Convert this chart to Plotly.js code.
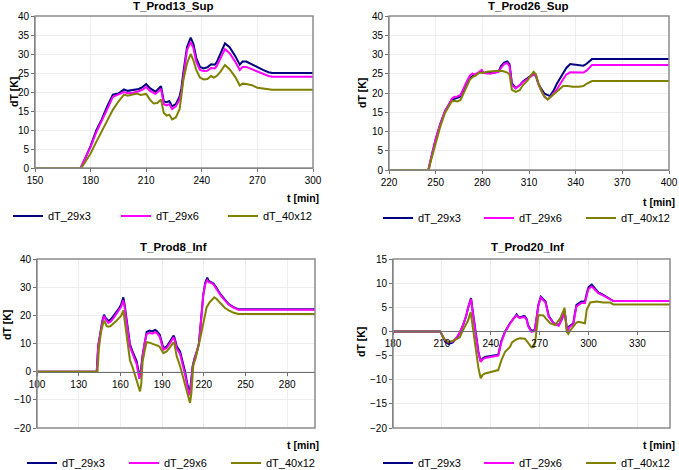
<!DOCTYPE html>
<html><head><meta charset="utf-8">
<script src="https://cdn.plot.ly/plotly-3.0.1.min.js"></script>
<style>html,body{margin:0;padding:0;background:#fff;overflow:hidden}#chart{width:679px;height:470px}</style>
</head><body><div id="chart"></div><script>
// ---------- data ----------
var seriesNames = ['dT_29x3', 'dT_29x6', 'dT_40x12'];
var panelTitles = ['T_Prod13_Sup', 'T_Prod26_Sup', 'T_Prod8_Inf', 'T_Prod20_Inf'];

// T_Prod13_Sup
var p13_t_29x3 = [150,174.7,177,180,183,186,189,192,195,198,200,203,206,208,210,212,215,218,219.5,221,222.5,224,226,228,229,230,232,234,235.5,237,239,241,243,245,247,248,250,252.5,255,258,260.5,262,264,267,270,273,276,278,300];
var p13_dT_29x3 = [0,0,2.4,5.8,9.8,12.8,16.3,19.3,19.6,20.7,20.3,20.5,20.8,21.3,22.1,21,20.1,21.5,17.5,17.3,17.6,16.2,16.8,18.8,21,25,31.8,34.3,32.6,29,26.6,26.2,26.5,27.3,27.2,27.8,30,32.8,31.8,29.5,27.2,28,28,27.2,26.5,25.8,25.2,25,25];
var p13_t_29x6 = [150,174.7,177,180,183,186,189,192,195,198,200,203,206,208,210,212,215,218,219.5,221,222.5,224,226,228,229,230,232,234,235.5,237,239,241,243,245,247,248,250,252.5,255,258,260.5,262,264,267,270,273,276,278,300];
var p13_dT_29x6 = [0,0,2.6,5.5,9.3,12.2,15.5,18.7,19.3,20,19.7,19.8,20.2,20.6,21.3,20.3,19.5,20.8,16.8,16.5,16.8,15.5,16.2,18,20,24,31,33.2,31.5,28,25.8,25.5,25.6,26.3,26.2,26.8,28.8,31.3,30.2,28,25.8,26.6,26.6,26,25.3,24.7,24.2,24,24];
var p13_t_40x12 = [150,175,177,180,183,186,189,192,195,198,200,203,205,207,210,212,214,216,218,219.5,221,222.5,224,226,228,229,230,232,234,235.5,237,239,241,243,245,246.5,248,250,252.5,255,258,260.5,262,264,267,270,273,276,278,300];
var p13_dT_40x12 = [0,0,1.5,3.8,6.8,9.5,12.5,15.3,17.5,19.3,19,19.4,19.6,19.2,19.5,18,17,17.1,18,14.5,13.8,14,12.8,13.3,15.5,19,23,27.5,30,28.3,25.8,23.8,23.3,23.4,24.2,23.8,24.2,25.3,27.1,26,24,21.7,22.2,22.1,21.8,21.1,20.9,20.8,20.6,20.6];

// T_Prod26_Sup
var p26_t_29x3 = [220,245.3,247,250,253,256,258.5,260.3,263,265.5,267,269,271,273,275,277,279.5,281,285,288,290.5,292,294,296,297.5,299,301.5,304,306,309,311,313,314.5,316,318,320,323.5,326,328,331,334,336.5,339,342,345,347,349,350.5,400];
var p26_dT_29x3 = [0,0,3,8,12,15.3,17,18.2,18.6,19,20,21.8,23.3,24.2,24.7,25,25.6,25.2,25.2,25.3,25.6,27,27.9,28.2,27.5,22.5,21.3,22,23,23.8,24.3,25,24.3,22.5,21,19.8,19.2,20.8,22.5,24.5,26.5,27.5,27.4,27.3,27.1,27.6,28.3,28.8,28.8];
var p26_t_29x6 = [220,245.3,247,250,253,256,258.5,260.5,262,264,266,268,270,272,273.6,275,277,279.6,281,285,288,290.5,292,294,296,297.5,299,301.5,304,306,309,311,313,314.5,316,318,320,322,324,326,328,331,334,336.5,340,345,347,349,350.5,400];
var p26_dT_29x6 = [0,0,3,8,12,15.3,17,18.6,19,19.1,19.5,21.5,23,24.5,25.1,24.8,25.2,26,25.2,25,25.2,25.5,26.5,27.5,27.8,27,22,21.2,22,22.8,23.6,24.2,24.8,24.5,22.3,20.5,19,18.3,19,20,21,23,24.8,25.4,25.4,25.3,25.8,26.7,27.3,27.3];
var p26_t_40x12 = [220,245.6,247,250,253,256,258.5,260.3,262,264,266,268,270,272,274,276,278,280,283,286,290,293,296,297.5,299,301.5,304,306,309,311,313,314.5,316,318,320,322,324,326,328,330,332,335,338,342,345,347,349,350.5,400];
var p26_dT_40x12 = [0,0,2.5,7,11.3,14.8,16.5,17.8,18,17.8,18.2,20,22,23.5,24.2,24.6,25.3,25.2,25.5,25.6,25.8,25.7,25.3,24.8,20.8,20.3,20.7,22,23.2,24.5,25.5,24.8,22.5,20.5,19,18.3,19,19.8,20.3,21,21.8,21.8,21.6,21.6,21.8,22.4,22.9,23.1,23.1];

// T_Prod8_Inf
var p8_t_29x3 = [100,143,144,145.5,147,148.2,149.5,151.3,153,155,157,159,160.5,162.1,163,164.5,166.9,168.5,170,171.7,173.6,174.5,176,177.5,178.9,181,183,185,186.5,188.3,190.9,193.3,195.5,198.3,199,200.5,202.9,205,206.5,208,209.6,210.5,212,213.5,215,216.5,218,219.6,221,222.5,223.5,225.6,227,229.2,232,235.3,238,241,244.8,300];
var p8_dT_29x3 = [0,0,9,14,18,20.2,19,18,18.5,19.8,21,22.5,23.8,26.4,24,18.8,9.6,7.5,5.5,3.7,-1.3,-0.5,6,11,14.1,14.6,14.3,14.8,14.3,13.1,8.4,8.9,10.5,12.8,12,9,7.2,3.5,0.1,-4,-7.6,-5,2,5,7,10,18,27.3,31.5,33.4,32.2,31.8,31.3,29.7,27.5,25.5,24,23,22.2,22.2];
var p8_t_29x6 = [100,143,144,145.5,147,148.2,149.5,151.3,153,155,157,159,160.5,162.1,163,164.5,166.9,168.5,170,171.7,173.6,174.5,176,177.5,178.9,181,183,185,186.5,188.3,190.9,193.3,195.5,198.3,199,200.5,202.9,205,206.5,208,209.6,210.5,212,213.5,215,216.5,218,219.6,221,222.5,223.5,225.6,227,229.2,232,235.3,238,241,244.8,300];
var p8_dT_29x6 = [0,0,9,13.5,17.5,19.8,18.5,17.3,17.8,19,20.3,21.8,23,25.3,23,17.5,8.8,6.8,4.5,2.7,-2.5,-1.5,5.5,10.5,13.3,13.8,13.5,14,13.6,12.3,7.8,8.4,10,12.2,11.3,8.3,6.3,2.5,-1,-5,-8.4,-6,1.5,4.8,7,10,18,27,31,32.5,31.8,31.5,31,29.2,27.2,25.2,23.8,22.8,22,22];
var p8_t_40x12 = [100,143.5,144.5,146,147.5,148.5,150,151.3,153,155,157,159,160.5,162.1,163,164.5,166.9,168.5,170,171.7,174.1,175,176,177.5,178.9,181,183,185,187,188.3,190.9,193.3,195.5,198.3,199,200.5,202.9,205,206.5,208,210.1,211,212.5,214,216,217.5,219.6,221,222,224,225.6,227.5,229.2,232,235.3,238,241,244.8,300];
var p8_dT_40x12 = [0,0,8,14,17,18.1,16.2,16,16.2,17,18,19,19.8,21.8,18.5,12,4,2,-0.5,-2.5,-7,-4.5,3.6,7.5,10.5,10.3,9.8,9.5,9.2,8.8,6.6,7.2,8.5,10.5,9.5,5.5,2,-2,-4,-7,-11.1,-8,2.5,4.5,8.4,12,17,20.5,22.8,24.5,25.3,26.4,25.8,24.3,22.6,21.8,21,20.5,20.5];

// T_Prod20_Inf
var p20_t_29x3 = [180,209,210.5,212,214,216.5,219,221,223,225,226,227.9,228.8,229.9,231,232.4,233.8,235,236.5,240,244.6,246.5,248.8,251.8,254,255.9,257,258,260,261,262,263,265,267,268,269.2,270.7,272,273.6,275.6,278.7,281.7,283.8,285.3,286.3,287,288,290.7,291.5,292.6,295.7,297.8,299,300,302,304,306,308,311.2,313,315.2,350];
var p20_dT_29x3 = [0,0,-1,-2.1,-2.6,-2.3,-1.4,-0.3,1.3,3.3,4.8,6.9,4.5,2,-1,-4.2,-6.2,-5.6,-5.3,-5.1,-4.8,-2,0,1.7,2.8,3.5,3,2.9,3.2,3.1,2.6,1.2,0.1,0.3,2.5,5.5,7.2,6.8,6.2,3.2,1.7,1.3,2.7,4.2,1.8,-0.2,1,1.7,3.5,5.5,6.2,6.2,8,9.2,9.7,9,8.1,7.8,7.2,6.8,6.3,6.3];
var p20_t_29x6 = [180,209,210.5,212,214,216.5,219,221,223,225,226,227.9,228.8,229.9,231,232.4,233.8,235,236.5,240,244.6,246.5,248.8,251.8,254,255.9,257,258,260,261,262,263,265,267,268,269.2,270.7,272,273.6,275.6,278.7,281.7,283.8,285.3,286.3,287,288,290.7,291.5,292.6,295.7,297.8,299,300,302,304,306,308,311.2,313,315.2,350];
var p20_dT_29x6 = [0,0,-1,-1.9,-2.3,-2.1,-1.3,-0.2,1.3,3.3,4.8,6.7,4.3,1.8,-1.2,-4.4,-6.3,-5.8,-5.5,-5.3,-5,-2.2,-0.1,1.6,2.7,3.3,2.9,2.8,3,2.9,2.4,1,-0.1,0.1,2.3,5.3,7,6.6,6,3,1.6,1.2,2.6,4.3,1.6,-0.3,0.8,1.5,3.2,5.2,5.9,5.9,7.6,8.8,9.3,8.7,7.9,7.6,7,6.7,6.3,6.3];
var p20_t_40x12 = [180,209,210.5,212,214,216.5,219,221,223,225,226,227.7,228.8,229.9,231,232.4,233.8,235,236.5,240,244.6,246.5,248.8,251.8,253,255.9,258,261,263,265,266.5,267.5,269.2,272.3,274,276.4,279.5,282.6,284.5,285.3,286.6,287.6,289,290.7,292.5,293.7,297.8,298.9,301,305,309,313.2,315.2,350];
var p20_dT_40x12 = [0,0,-1,-1.8,-2.2,-2,-1.6,-1.2,0.3,1.7,2.2,4,1.5,-1.4,-4.5,-7.5,-9.7,-9,-8.7,-8.4,-8,-6,-4.2,-3.2,-2.3,-1.6,-1.4,-1.5,-2.4,-3.3,-3.2,-1.5,3.4,3.3,2.6,1.7,1.3,2.7,4.2,4.9,0,-0.5,0.3,1,1.8,2,1.7,4.5,6,6.2,6,6,5.6,5.6];

// ---------- styling ----------
var W = 679, H = 470;
function px(x){ return x / W; }
function py(y){ return 1 - y / H; }
var colors = ['#000080', '#FF00FF', '#808000'];
var FONT = 'Liberation Sans, Arial, sans-serif';

var panels = [
  {ts:[p13_t_29x3,p13_t_29x6,p13_t_40x12], ys:[p13_dT_29x3,p13_dT_29x6,p13_dT_40x12],
   xd:[px(35),px(313)], yd:[py(168),py(16)], xr:[150,300], x0:150, yr:[0,40], dy:5,
   title:[174,6], tmin:[321,198], dtk:[14,92], legY:216, legL:[17,125,232]},
  {ts:[p26_t_29x3,p26_t_29x6,p26_t_40x12], ys:[p26_dT_29x3,p26_dT_29x6,p26_dT_40x12],
   xd:[px(389),px(669)], yd:[py(170),py(16)], xr:[220,400], x0:220, yr:[0,40], dy:5,
   title:[528,6], tmin:[677,202], dtk:[362,93], legY:218, legL:[387,488,590]},
  {ts:[p8_t_29x3,p8_t_29x6,p8_t_40x12], ys:[p8_dT_29x3,p8_dT_29x6,p8_dT_40x12],
   xd:[px(37),px(315)], yd:[py(428),py(259)], xr:[100,300], x0:100, yr:[-20,40], dy:10,
   title:[173,247], tmin:[321,445], dtk:[7,325], legY:463, legL:[31,133,235]},
  {ts:[p20_t_29x3,p20_t_29x6,p20_t_40x12], ys:[p20_dT_29x3,p20_dT_29x6,p20_dT_40x12],
   xd:[px(393),px(670)], yd:[py(428),py(259)], xr:[180,350], x0:180, yr:[-20,15], dy:5,
   title:[527,247], tmin:[677,445], dtk:[361,342], legY:463, legL:[387,488,590]}
];

var data = [];
var layout = {
  width: W, height: H, margin:{l:0,r:0,t:0,b:0, autoexpand:false},
  paper_bgcolor:'#ffffff', plot_bgcolor:'#ffffff',
  font:{family:FONT, size:10, color:'#000'},
  showlegend:true, annotations:[], shapes:[]
};

panels.forEach(function(p, i){
  var n = i + 1;
  var xk = 'xaxis' + (n === 1 ? '' : n), yk = 'yaxis' + (n === 1 ? '' : n);
  var xr = 'x' + (n === 1 ? '' : n), yr = 'y' + (n === 1 ? '' : n);
  for (var s = 0; s < 3; s++) {
    var li = i * 3 + s + 1;
    var lg = 'legend' + (li === 1 ? '' : li);
    data.push({
      type:'scatter', mode:'lines', x:p.ts[s], y:p.ys[s], name:seriesNames[s],
      xaxis:xr, yaxis:yr, legend:lg,
      line:{color:colors[s], width:2}, hoverinfo:'skip'
    });
    layout[lg] = {
      orientation:'h', x:px(p.legL[s] - 9), y:py(p.legY), xanchor:'left', yanchor:'middle',
      bgcolor:'rgba(0,0,0,0)', borderwidth:0,
      font:{family:FONT, size:11, color:'#000'}
    };
  }
  var zfrac = p.yd[0] + (0 - p.yr[0]) / (p.yr[1] - p.yr[0]) * (p.yd[1] - p.yd[0]);
  layout[xk] = {
    domain:p.xd, range:p.xr, tick0:p.x0, dtick:30, tickmode:'linear',
    showgrid:true, gridcolor:'#eeeeee', gridwidth:1, zeroline:false,
    showline:true, linecolor:'#707070', linewidth:1,
    ticks:'outside', ticklen:3, tickcolor:'#707070',
    tickfont:{family:FONT, size:10, color:'#000'},
    fixedrange:true
  };
  if (p.yr[0] < 0) { layout[xk].anchor = 'free'; layout[xk].position = zfrac; }
  else { layout[xk].anchor = yr; }
  layout[yk] = {
    domain:p.yd, range:p.yr, dtick:p.dy, tickmode:'linear', anchor:xr,
    showgrid:true, gridcolor:'#eeeeee', gridwidth:1, zeroline:false,
    showline:true, linecolor:'#707070', linewidth:1,
    ticks:'outside', ticklen:3, tickcolor:'#707070',
    tickfont:{family:FONT, size:10, color:'#000'},
    fixedrange:true
  };
  layout.shapes.push({type:'rect', xref:xr + ' domain', yref:yr + ' domain', x0:0, x1:1, y0:0, y1:1,
    line:{color:'#8c8c8c', width:1.5}, fillcolor:'rgba(0,0,0,0)', layer:'above'});
  layout.annotations.push({text:'<b>' + panelTitles[i] + '</b>', xref:'paper', yref:'paper',
    x:px(p.title[0]), y:py(p.title[1]), xanchor:'center', yanchor:'middle', showarrow:false,
    font:{family:FONT, size:11.5, color:'#000'}});
  layout.annotations.push({text:'<b>t [min]</b>', xref:'paper', yref:'paper',
    x:px(p.tmin[0]), y:py(p.tmin[1]), xanchor:'right', yanchor:'middle', showarrow:false,
    font:{family:FONT, size:10.5, color:'#000'}});
  layout.annotations.push({text:'<b>dT [K]</b>', xref:'paper', yref:'paper', textangle:-90,
    x:px(p.dtk[0]), y:py(p.dtk[1]), xanchor:'center', yanchor:'middle', showarrow:false,
    font:{family:FONT, size:10.5, color:'#000'}});
});

Plotly.newPlot('chart', data, layout, {displayModeBar:false, staticPlot:true});
</script></body></html>
